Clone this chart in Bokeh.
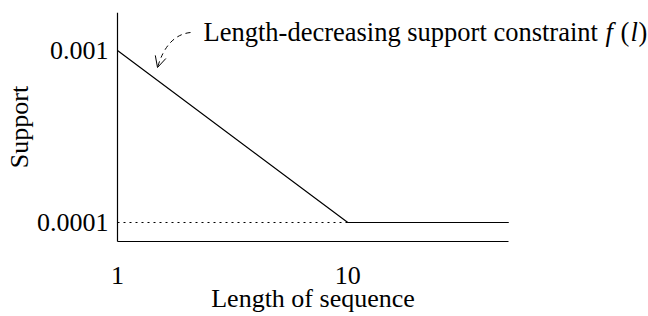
from bokeh.plotting import figure
from bokeh.models import FixedTicker, CustomJSTickFormatter, Label, Arrow, OpenHead
from bokeh.embed import file_html
from bokeh.resources import INLINE

# data
length = [1, 10, 50]
support = [0.001, 0.0001, 0.0001]
floor_x = [1, 10]
floor_y = [0.0001, 0.0001]
x_ticks = [1, 10]
y_ticks = [0.0001, 0.001]
annotation = "Length-decreasing support constraint"

FONT = "Liberation Serif"
FS = "26px"

# geometry (page px)
W, H = 648, 316
AX_X, AX_TOP, AX_BOTTOM = 117, 12, 241
PX_PER_DEC_X = 230.3
PX_PER_DEC_Y = 172.0
x_start = 10 ** (-AX_X / PX_PER_DEC_X)
x_end = 10 ** ((W - AX_X) / PX_PER_DEC_X)
y_start = 10 ** (-4 - (H - 222) / PX_PER_DEC_Y)
y_end = 10 ** (-3 + (50 - AX_TOP) / PX_PER_DEC_Y)
y_axis_low = 10 ** (-4 - (AX_BOTTOM - 222) / PX_PER_DEC_Y)


def wx(px):
    return 10 ** ((px - AX_X) / PX_PER_DEC_X)


def wy(py):
    return 10 ** (-3 - (py - 50) / PX_PER_DEC_Y)


p = figure(width=W, height=H, output_backend="svg", toolbar_location=None,
           x_axis_type="log", y_axis_type="log",
           x_range=(x_start, x_end), y_range=(y_start, y_end),
           min_border_left=0, min_border_top=AX_TOP, min_border_bottom=0,
           min_border_right=0)
p.outline_line_color = None
p.grid.visible = False
p.background_fill_color = "white"
p.border_fill_color = "white"

for ax in (p.xaxis[0], p.yaxis[0]):
    ax.major_tick_in = 0
    ax.major_tick_out = 0
    ax.minor_tick_in = 0
    ax.minor_tick_out = 0
    ax.axis_line_color = "black"
    ax.axis_line_width = 1.2
    ax.major_label_text_font = FONT
    ax.major_label_text_font_size = FS
    ax.major_label_text_color = "black"
    ax.axis_label_text_font = FONT
    ax.axis_label_text_font_size = FS
    ax.axis_label_text_font_style = "normal"
    ax.axis_label_text_color = "black"
    ax.formatter = CustomJSTickFormatter(code="return tick.toString();")

p.xaxis[0].ticker = FixedTicker(ticks=x_ticks, minor_ticks=[])
p.yaxis[0].ticker = FixedTicker(ticks=y_ticks, minor_ticks=[])
p.xaxis[0].bounds = (length[0], length[-1])
p.xaxis[0].fixed_location = y_axis_low
p.yaxis[0].bounds = (y_axis_low, y_end)
p.yaxis[0].fixed_location = length[0]
p.xaxis[0].axis_label = "Length of sequence"
p.yaxis[0].axis_label = "Support"
p.xaxis[0].major_label_standoff = 25
p.xaxis[0].axis_label_standoff = -3
p.yaxis[0].major_label_standoff = 9
p.yaxis[0].axis_label_standoff = 0

p.line(floor_x, floor_y, line_color="black", line_width=1, line_dash="2 4")
p.line(length, support, line_color="black", line_width=1.2)

# curved dashed arrow
p.quadratic(x0=[wx(190)], y0=[wy(32)], x1=[wx(157)], y1=[wy(67)],
            cx=[wx(166.5)], cy=[wy(34.5)],
            line_color="black", line_width=1, line_dash="5 4")
p.add_layout(Arrow(end=OpenHead(size=11, line_width=1, line_color="black"),
                   x_start=wx(159.85), y_start=wy(57.25), x_end=wx(157), y_end=wy(67),
                   line_alpha=0))

AFS = "26.5px"
base = wy(31)
p.add_layout(Label(x=wx(203), y=base, text=annotation, text_font=FONT,
                   text_font_size=AFS, text_baseline="alphabetic", text_color="black"))
for t, px, style in [("f", 605, "italic"), ("(", 620, "normal"),
                     ("l", 630, "italic"), (")", 638, "normal")]:
    p.add_layout(Label(x=wx(px), y=base, text=t, text_font=FONT, text_font_size=AFS,
                       text_font_style=style, text_baseline="alphabetic",
                       text_color="black"))

open("out.html", "w").write(file_html(p, INLINE))
